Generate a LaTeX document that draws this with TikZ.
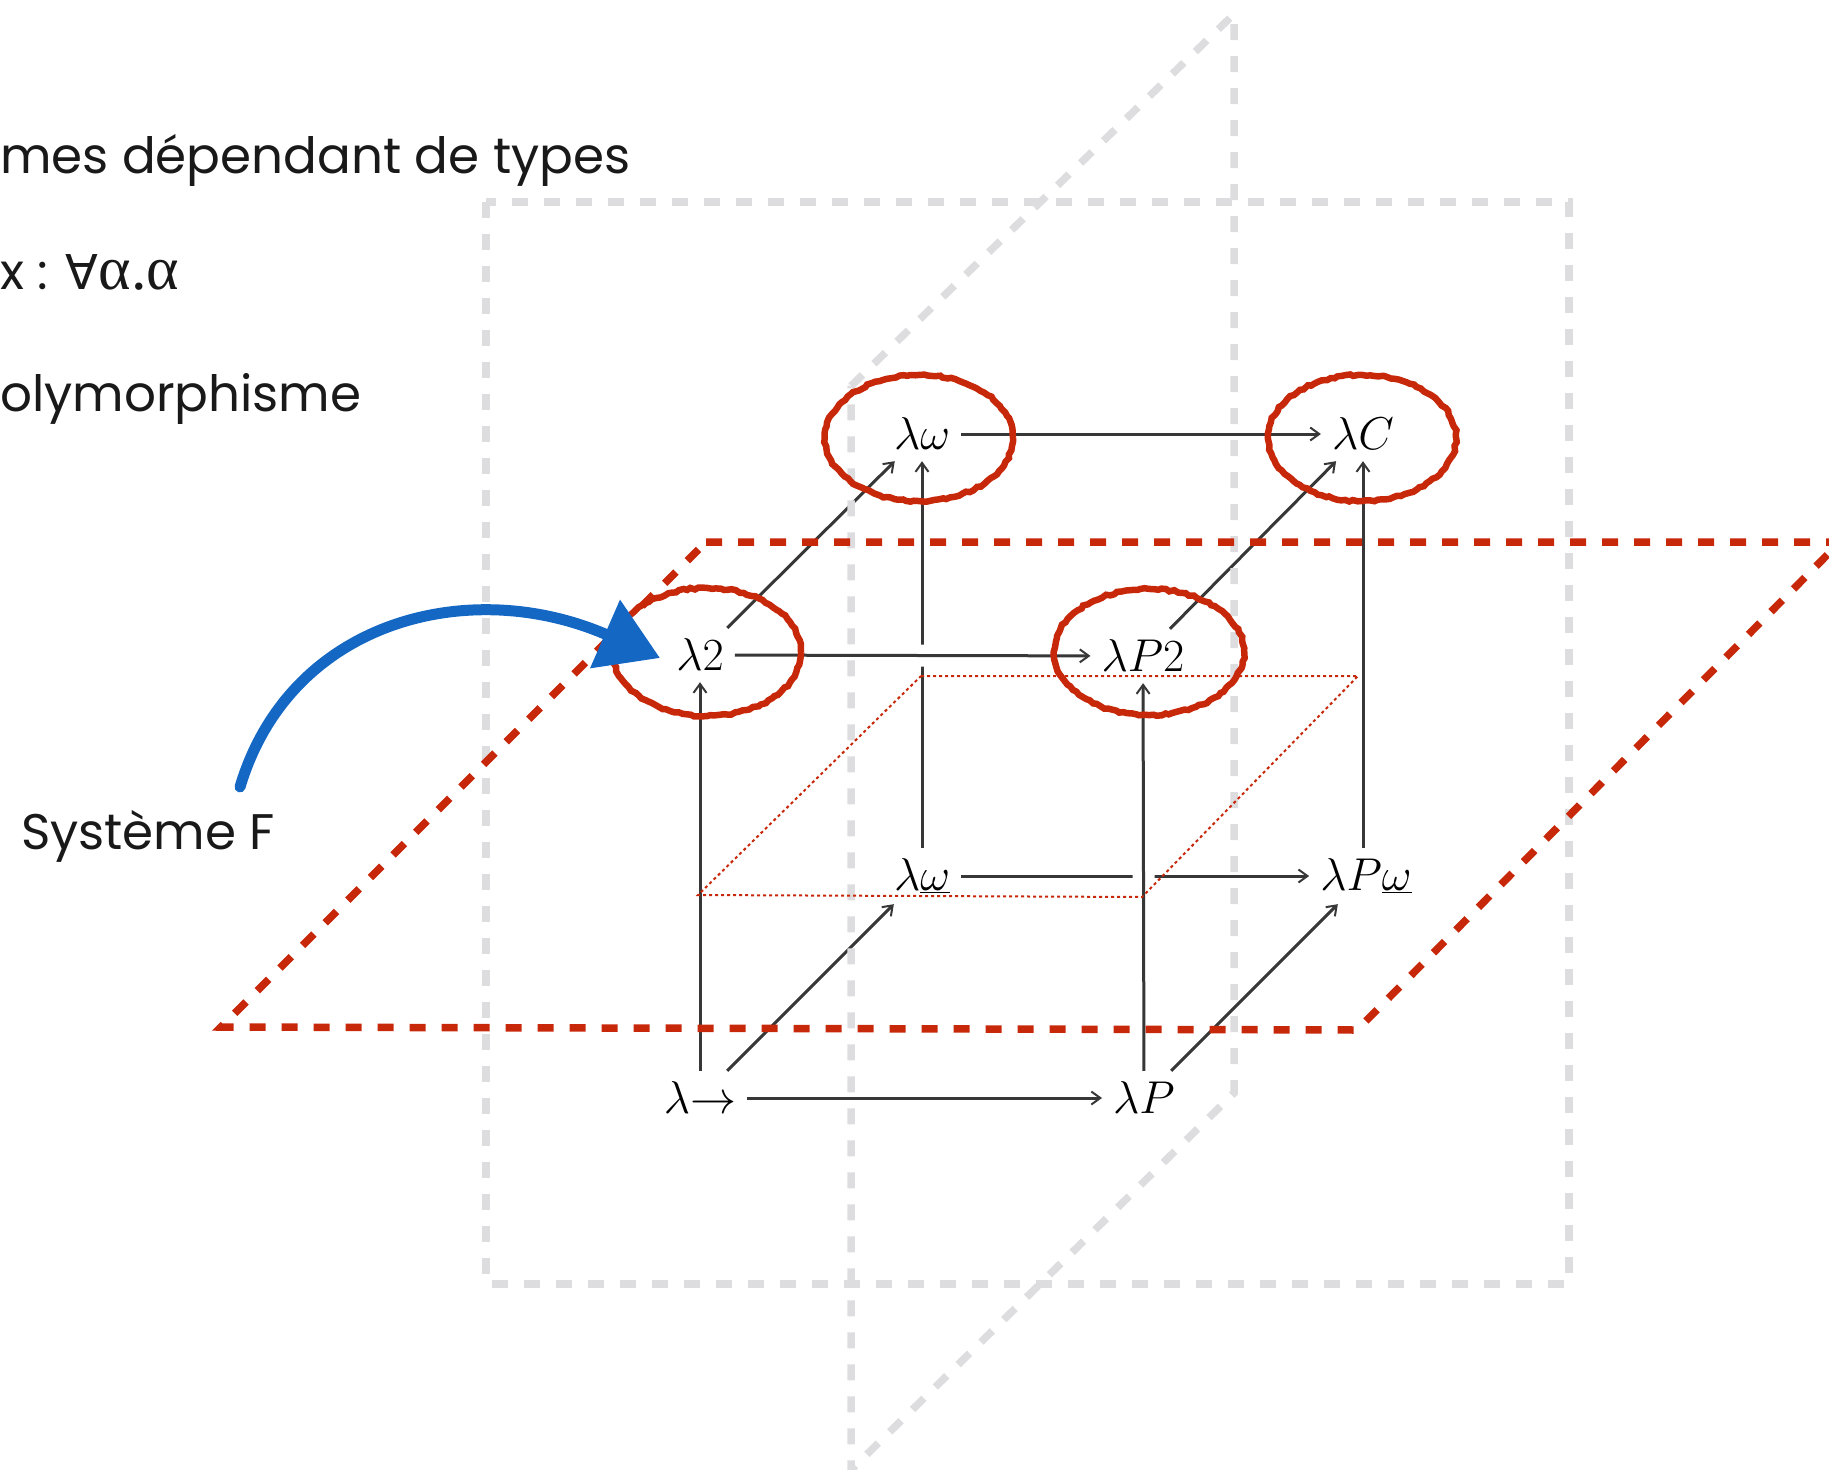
\documentclass[tikz,border=0pt]{standalone}
\usepackage{fix-cm}
\usepackage{fontspec}
\newfontfamily\gothic{Poppins}
\newfontfamily\symbsans{DejaVu Sans}
\newfontfamily\symbserif{Liberation Serif}
\usetikzlibrary{arrows.meta,decorations.pathmorphing}
\definecolor{redD}{RGB}{200,40,10}
\definecolor{grayD}{RGB}{221,221,223}
\definecolor{blueA}{RGB}{20,104,196}
\definecolor{cubeC}{RGB}{55,55,55}
\begin{document}
\begin{tikzpicture}[x=1pt,y=-1pt,
  lam/.style={inner sep=11pt, font=\fontsize{46}{50}\selectfont},
  cubeline/.style={draw=cubeC, line width=3pt},
  cubearrow/.style={cubeline, -{Straight Barb[length=9pt,width=13pt,line width=2pt]}},
  halo/.style={preaction={draw=white, line width=22pt, -}},
  graydash/.style={draw=grayD, line width=7.5pt, dash pattern=on 16pt off 16pt},
  reddash/.style={draw=redD, line width=7.5pt, dash pattern=on 16pt off 16pt},
  reddot/.style={draw=redD, line width=2pt, dash pattern=on 3pt off 3pt},
  redring/.style={draw=redD, line width=6.5pt, decorate, decoration={random steps, segment length=4pt, amplitude=1pt}},
  bluearrow/.style={draw=blueA, line width=11pt, line cap=round, -{Triangle[length=60pt,width=72pt]}},
  txt/.style={anchor=base west, inner sep=0pt, font=\gothic\fontsize{50}{60}\selectfont, text=black!90}
]
\pgfmathsetseed{7}
\useasboundingbox (0,0) rectangle (1829,1470);

% left texts
\node[txt] (t1) at (0,173) {mes dépendant de types};
\node[txt] (t2) at (0,289) {x : {\symbsans\fontsize{48}{50}\selectfont ∀}{\symbserif\fontsize{62}{64}\selectfont α.α}};
\node[txt] (t3) at (0,411) {olymorphisme};
\node[txt] (sysF) at (21,849) {Système F};

% cube nodes
\node[lam] (l2) at (700,655) {$\lambda2$};
\node[lam] (lP2) at (1143,656) {$\lambda P2$};
\node[lam] (lw) at (922,434) {$\lambda\omega$};
\node[lam] (lC) at (1363,434) {$\lambda C$};
\node[lam] (lwu) at (922,876) {$\lambda\underline{\omega}$};
\node[lam] (lPw) at (1366,876) {$\lambda P\underline{\omega}$};
\node[lam] (la) at (700,1098) {$\lambda{\to}$};
\node[lam] (lP) at (1144,1098) {$\lambda P$};

% back arrows
\draw[cubearrow] (lwu) -- (lPw);
\draw[cubearrow] (lwu) -- (lw);
\draw[cubearrow] (lPw.north -| lC.south) -- (lC.south);
\draw[cubearrow] (la) -- (lwu);
\draw[cubearrow] (lP) -- (lPw);
\draw[cubearrow] (lw) -- (lC);
\draw[cubearrow] (l2) -- (lw);
\draw[cubearrow] (lP2) -- (lC);
% front arrows
\draw[cubearrow] (la) -- (lP);
\draw[cubearrow] (la) -- (l2);
\draw[cubearrow, halo] (lP) -- (lP2);
\draw[cubearrow, halo] (l2) -- (lP2);

% gray planes
\draw[graydash] (486,202) rectangle (1569,1284);
\draw[graydash] (851,386) -- (1234,14) -- (1234,1093) -- (851,1470) -- cycle;

% red plane
\draw[reddash] (706,542) -- (1840,542) -- (1357,1030) -- (221,1027) -- cycle;
\draw[reddot] (921,676) -- (1358,676) -- (1142,897) -- (698,895) -- cycle;

% red rings
\draw[redring] (707,652) ellipse [x radius=94pt, y radius=64pt];
\draw[redring] (1149,652) ellipse [x radius=95pt, y radius=63pt];
\draw[redring] (919,438) ellipse [x radius=94pt, y radius=63pt];
\draw[redring] (1362,438) ellipse [x radius=94pt, y radius=63pt];

% blue arrow
\coordinate (bstart) at (240,787);
\coordinate (bend) at (660,658);
\draw[bluearrow] (bstart) .. controls (290,620) and (470,575) .. (bend);
\end{tikzpicture}
\end{document}
